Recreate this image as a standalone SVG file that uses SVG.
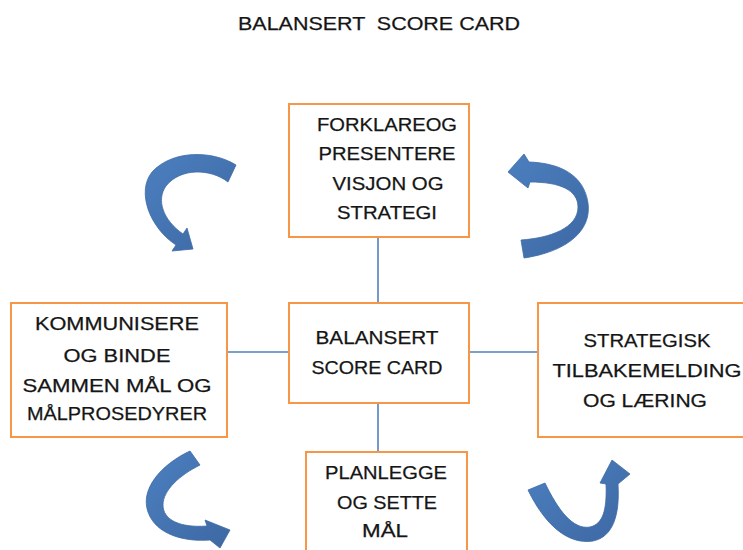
<svg xmlns="http://www.w3.org/2000/svg" width="743" height="550" viewBox="0 0 743 550">
<style>
.box{fill:#fff;stroke:#F79646;stroke-width:2}
.lbl{font-family:"Liberation Sans",Arial,sans-serif;font-size:19px;fill:#151515;stroke:#151515;stroke-width:0.25;text-anchor:middle;white-space:pre}
.con{stroke:#4F81BD;stroke-width:1.6;fill:none}
.arr{fill:url(#g);stroke:#3E6BA6;stroke-width:0.8}
</style>
<defs>
<linearGradient id="g" x1="0" y1="0" x2="1" y2="1">
<stop offset="0" stop-color="#4C7FBF"/>
<stop offset="1" stop-color="#3D68A3"/>
</linearGradient>
</defs>
<rect width="743" height="550" fill="#fff"/>
<text class="lbl" x="379" y="30" textLength="282" lengthAdjust="spacingAndGlyphs" xml:space="preserve">BALANSERT  SCORE CARD</text>
<g id="connectors">
<line class="con" x1="378" y1="237" x2="378" y2="303"/>
<line class="con" x1="378" y1="403" x2="378" y2="452"/>
<line class="con" x1="227" y1="352" x2="289" y2="352"/>
<line class="con" x1="469" y1="352" x2="538" y2="352"/>
<path class="arr" d="M236,165 C212,150 172,150 152,172 C136,192 150,228 176,245 L172,251 L193,249 L187,228 L183,234 C163,220 156,200 166,186 C180,168 210,168 228,182 Z"/>
<path class="arr" d="M524,258 C565,252 592,232 588,203 C584,175 560,163 529,162 L524,154 L508,172 L528,188 L530,182 C560,182 578,190 578,207 C578,228 550,238 521,240 Z"/>
<path class="arr" d="M190,451 C160,465 140,490 148,512 C156,535 185,542 210,540 L220,548 L230,530 L205,520 L207,526 C180,528 163,520 163,505 C163,490 180,475 200,465 Z"/>
<path class="arr" d="M528,490 C545,525 568,545 593,541 C613,537 620,515 618,484 L630,474 L612,460 L600,483 L606,484 C607,510 603,524 590,527 C573,530 558,510 545,483 Z"/>
</g>
<g id="node-top">
<rect class="box" x="289" y="104" width="180" height="133"/>
<text class="lbl" x="387" y="131" textLength="140" lengthAdjust="spacingAndGlyphs">FORKLAREOG</text>
<text class="lbl" x="387" y="160" textLength="137" lengthAdjust="spacingAndGlyphs">PRESENTERE</text>
<text class="lbl" x="388" y="190" textLength="111" lengthAdjust="spacingAndGlyphs">VISJON OG</text>
<text class="lbl" x="387" y="219" textLength="100" lengthAdjust="spacingAndGlyphs">STRATEGI</text>
</g>
<g id="node-center">
<rect class="box" x="289" y="303" width="180" height="100"/>
<text class="lbl" x="377" y="344" textLength="123" lengthAdjust="spacingAndGlyphs">BALANSERT</text>
<text class="lbl" x="377" y="374" textLength="131" lengthAdjust="spacingAndGlyphs">SCORE CARD</text>
</g>
<g id="node-left">
<rect class="box" x="11" y="303" width="216" height="134"/>
<text class="lbl" x="117" y="330" textLength="164" lengthAdjust="spacingAndGlyphs">KOMMUNISERE</text>
<text class="lbl" x="117" y="362" textLength="107" lengthAdjust="spacingAndGlyphs">OG BINDE</text>
<text class="lbl" x="117" y="392" textLength="189" lengthAdjust="spacingAndGlyphs">SAMMEN MÅL OG</text>
<text class="lbl" x="117" y="420" textLength="180" lengthAdjust="spacingAndGlyphs">MÅLPROSEDYRER</text>
</g>
<g id="node-right">
<rect class="box" x="538" y="303" width="212" height="134"/>
<text class="lbl" x="647" y="347" textLength="127" lengthAdjust="spacingAndGlyphs">STRATEGISK</text>
<text class="lbl" x="647" y="377" textLength="189" lengthAdjust="spacingAndGlyphs">TILBAKEMELDING</text>
<text class="lbl" x="645" y="407" textLength="124" lengthAdjust="spacingAndGlyphs">OG LÆRING</text>
</g>
<g id="node-bottom">
<rect class="box" x="306" y="452" width="161" height="110"/>
<text class="lbl" x="386" y="479" textLength="122" lengthAdjust="spacingAndGlyphs">PLANLEGGE</text>
<text class="lbl" x="387" y="509" textLength="100" lengthAdjust="spacingAndGlyphs">OG SETTE</text>
<text class="lbl" x="385" y="537" textLength="46" lengthAdjust="spacingAndGlyphs">MÅL</text>
</g>
</svg>
